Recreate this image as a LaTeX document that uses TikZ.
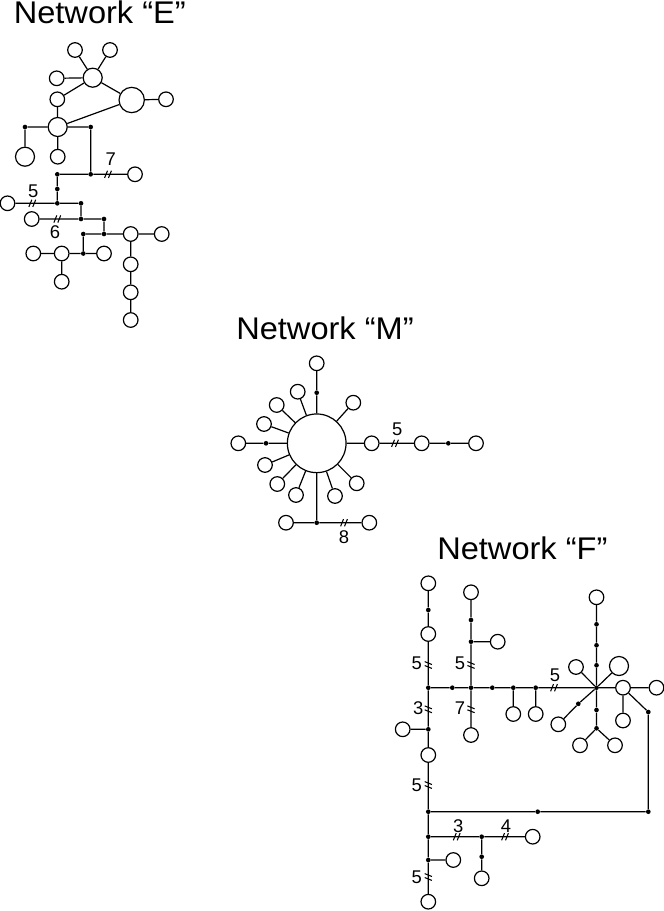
\documentclass[tikz,border=0pt]{standalone}
\usepackage{fontspec}
\setmainfont{Liberation Sans}
\tikzset{
 sc/.style={circle,draw,fill=white,minimum size=10.95pt,inner sep=0pt,line width=0.9pt},
 mc/.style={sc,minimum size=14.25pt},
 bc/.style={sc,minimum size=19pt},
 hc/.style={sc,minimum size=44pt},
 dt/.style={circle,fill=black,minimum size=3.5pt,inner sep=0pt},
 ln/.style={line width=0.9pt},
 lab/.style={font=\fontsize{13.8}{16}\selectfont,inner sep=0pt},
 ttl/.style={font=\fontsize{23.5}{28}\selectfont,inner sep=0pt,anchor=base west,xscale=1.04},
 brk/.pic={\draw[line width=0.8pt] (-3.4,3.6)--(-0.5,-3.6) (0.5,3.6)--(3.4,-3.6);}
}
\begin{document}
\begin{tikzpicture}[x=0.75pt,y=-0.75pt]
\useasboundingbox (0,0) rectangle (664,911);
% ---------------- Network E ----------------
\node[ttl] (tE) at (13.5,23.3) {Network “E”};
\node[sc] (e1) at (75,50) {};
\node[sc] (e2) at (110,50) {};
\node[mc] (eB) at (92.7,77.7) {};
\node[sc] (e3) at (56.7,78.3) {};
\node[bc] (eC) at (131.7,100) {};
\node[sc] (e4) at (166,99.3) {};
\node[sc] (e5) at (57.3,99.3) {};
\node[mc] (eD) at (57.7,127) {};
\node[dt] (eL) at (25,127) {};
\node[dt] (eR) at (90.7,127) {};
\node[mc] (eE1) at (25,156.7) {};
\node[sc] (eE2) at (57.7,156.7) {};
\node[dt] (eR2) at (90.7,174.3) {};
\node[dt] (eJ) at (57.3,174.3) {};
\node[sc] (e7c) at (135,174.3) {};
\node[dt] (eK) at (57.3,189) {};
\node[dt] (eM) at (57.3,203.3) {};
\node[sc] (e5c) at (7.5,203.3) {};
\node[dt] (eN) at (81,203.3) {};
\node[dt] (eO) at (81,219) {};
\node[sc] (e6c) at (31.7,219) {};
\node[dt] (eP) at (104,219) {};
\node[dt] (eQ) at (104,234) {};
\node[dt] (eS) at (83.3,234) {};
\node[sc] (eT) at (130.7,234) {};
\node[sc] (eU) at (161.7,234) {};
\node[dt] (eV) at (83.3,253.5) {};
\node[sc] (eW) at (33.3,253.5) {};
\node[sc] (eX) at (61.7,253.5) {};
\node[sc] (eY) at (104,253.5) {};
\node[sc] (eZ) at (61.7,281.7) {};
\node[sc] (eT2) at (130.7,264.3) {};
\node[sc] (eT3) at (130.7,292.3) {};
\node[sc] (eT4) at (130.7,320) {};
\draw[ln] (e1)--(eB) (e2)--(eB) (e3)--(eB) (eB)--(eC) (eC)--(e4) (eB)--(e5)
 (e5)--(eD) (eD)--(eC) (eD)--(eL) (eD)--(eR) (eL)--(eE1) (eD)--(eE2)
 (eR)--(eR2) (eR2)--(eJ) (eR2)--(e7c) (eJ)--(eK) (eK)--(eM) (eM)--(e5c)
 (eM)--(eN) (eN)--(eO) (eO)--(e6c) (eO)--(eP) (eP)--(eQ) (eQ)--(eS)
 (eQ)--(eT) (eT)--(eU) (eS)--(eV) (eV)--(eX) (eX)--(eW) (eV)--(eY)
 (eX)--(eZ) (eT)--(eT2) (eT2)--(eT3) (eT3)--(eT4);
\pic at (108,174.3) {brk};
\pic at (32.3,203.3) {brk};
\pic at (57.3,219) {brk};
\node[lab] (l7) at (110.7,159.3) {7};
\node[lab] (l5e) at (33.3,191.7) {5};
\node[lab] (l6) at (55,231.7) {6};
% ---------------- Network M ----------------
\node[ttl] (tM) at (236,339.3) {Network “M”};
\node[hc] (mC) at (316.7,443.3) {};
\node[sc] (mT) at (316.7,363.3) {};
\node[dt] (mTd) at (316.7,392.7) {};
\node[sc] (mL) at (238.3,443.3) {};
\node[dt] (mLd) at (266,443.3) {};
\node[sc] (mR1) at (371.7,443.3) {};
\node[sc] (mR2) at (421.7,443.3) {};
\node[dt] (mRd) at (448.3,443.3) {};
\node[sc] (mR3) at (476,443.3) {};
\node[dt] (mBd) at (316.7,522.7) {};
\node[sc] (mB1) at (286,522.7) {};
\node[sc] (mB2) at (369.3,522.7) {};
\node[sc] (s1) at (297.7,391.7) {};
\node[sc] (s2) at (276.7,405) {};
\node[sc] (s3) at (264,424) {};
\node[sc] (s4) at (353.3,402.7) {};
\node[sc] (s5) at (265,465) {};
\node[sc] (s6) at (277.3,484) {};
\node[sc] (s7) at (296,495) {};
\node[sc] (s8) at (335,496) {};
\node[sc] (s9) at (356.7,483.3) {};
\draw[ln] (mT)--(mTd) (mTd)--(mC) (mL)--(mLd) (mLd)--(mC) (mC)--(mR1)
 (mR1)--(mR2) (mR2)--(mRd) (mRd)--(mR3) (mC)--(mBd) (mB1)--(mBd) (mBd)--(mB2)
 (s1)--(mC) (s2)--(mC) (s3)--(mC) (s4)--(mC) (s5)--(mC) (s6)--(mC)
 (s7)--(mC) (s8)--(mC) (s9)--(mC);
\pic at (395,443.3) {brk};
\pic at (344,522.7) {brk};
\node[lab] (l5m) at (397.3,429.3) {5};
\node[lab] (l8) at (344,537) {8};
% ---------------- Network F ----------------
\node[ttl] (tF) at (437,559.3) {Network “F”};
\node[sc] (fA) at (428.3,583.3) {};
\node[dt] (fAd) at (428.3,610) {};
\node[sc] (fB) at (428.3,634) {};
\node[dt] (fJ) at (428.3,687.7) {};
\node[dt] (fK) at (428.3,729.3) {};
\node[sc] (fKc) at (402.7,729.3) {};
\node[sc] (fC) at (428.3,755) {};
\node[dt] (fL) at (428.3,811.7) {};
\node[dt] (fLm) at (537.7,811.7) {};
\node[dt] (fLr) at (648.3,811.7) {};
\node[dt] (fUr) at (648.3,712) {};
\node[dt] (fM) at (428.3,836.7) {};
\node[dt] (fMd) at (481.7,836.7) {};
\node[sc] (fMc) at (532.7,836.7) {};
\node[dt] (fMd2) at (481.7,856.7) {};
\node[sc] (fMc2) at (481.7,878.3) {};
\node[dt] (fN) at (428.3,860) {};
\node[sc] (fNc) at (453.3,860) {};
\node[sc] (fO) at (428.3,901.7) {};
\node[dt] (fh1) at (452.3,687.7) {};
\node[dt] (fV) at (471,687.7) {};
\node[dt] (fh2) at (492.3,687.7) {};
\node[dt] (fh3) at (513.3,687.7) {};
\node[sc] (fh3c) at (513.3,714) {};
\node[dt] (fh4) at (535.7,687.7) {};
\node[sc] (fh4c) at (535.7,714) {};
\node[dt] (fH) at (596.5,687.7) {};
\node[sc] (fV1) at (471,592.3) {};
\node[dt] (fV1d) at (471,620) {};
\node[dt] (fV2d) at (471,641.7) {};
\node[sc] (fV2c) at (497.7,641.7) {};
\node[sc] (fV3) at (471,735) {};
\node[dt] (fu1) at (596.5,665.3) {};
\node[dt] (fu2) at (596.5,645.3) {};
\node[dt] (fu3) at (596.5,624.3) {};
\node[sc] (fuc) at (596.5,597.3) {};
\node[sc] (fUL) at (576,667) {};
\node[mc] (fUR) at (619,666) {};
\node[sc] (fRc) at (623,687.7) {};
\node[sc] (fRc2) at (656.5,687.7) {};
\node[sc] (fRd) at (623,720.5) {};
\node[dt] (fDL) at (578.3,703.8) {};
\node[sc] (fDLc) at (558.3,724.3) {};
\node[dt] (fDd1) at (596.5,710) {};
\node[dt] (fDd2) at (596.5,728.3) {};
\node[sc] (fD1) at (580,745.3) {};
\node[sc] (fD2) at (615,745.3) {};
\draw[ln] (fA)--(fAd) (fAd)--(fB) (fB)--(fJ) (fJ)--(fK) (fK)--(fKc) (fK)--(fC)
 (fC)--(fL) (fL)--(fM) (fM)--(fN) (fN)--(fO) (fN)--(fNc)
 (fL)--(fLm) (fLm)--(fLr) (fLr)--(fUr) (fUr)--(fRc)
 (fM)--(fMd) (fMd)--(fMc) (fMd)--(fMd2) (fMd2)--(fMc2)
 (fJ)--(fh1) (fh1)--(fV) (fV)--(fh2) (fh2)--(fh3) (fh3)--(fh4) (fh4)--(fH)
 (fh3)--(fh3c) (fh4)--(fh4c)
 (fV1)--(fV1d) (fV1d)--(fV2d) (fV2d)--(fV2c) (fV2d)--(fV) (fV)--(fV3)
 (fH)--(fu1) (fu1)--(fu2) (fu2)--(fu3) (fu3)--(fuc)
 (fH)--(fUL) (fH)--(fUR) (fH)--(fRc) (fRc)--(fRc2) (fRc)--(fRd)
 (fH)--(fDL) (fDL)--(fDLc) (fH)--(fDd1) (fDd1)--(fDd2) (fDd2)--(fD1) (fDd2)--(fD2);
\pic[rotate=90] at (428.3,665) {brk};
\pic[rotate=90] at (428.3,709.3) {brk};
\pic[rotate=90] at (428.3,785) {brk};
\pic[rotate=90] at (428.3,877) {brk};
\pic[rotate=90] at (471,665) {brk};
\pic[rotate=90] at (471,709.3) {brk};
\pic at (456.7,836.7) {brk};
\pic at (505,836.7) {brk};
\pic at (554,687.7) {brk};
\node[lab] (lf1) at (416.7,663.3) {5};
\node[lab] (lf2) at (418.3,708.3) {3};
\node[lab] (lf3) at (416.7,785) {5};
\node[lab] (lf4) at (416.7,877) {5};
\node[lab] (lf5) at (460,663.3) {5};
\node[lab] (lf6) at (460,708.3) {7};
\node[lab] (lf7) at (458.3,826) {3};
\node[lab] (lf8) at (506,826) {4};
\node[lab] (lf9) at (555,675) {5};
\end{tikzpicture}
\end{document}
